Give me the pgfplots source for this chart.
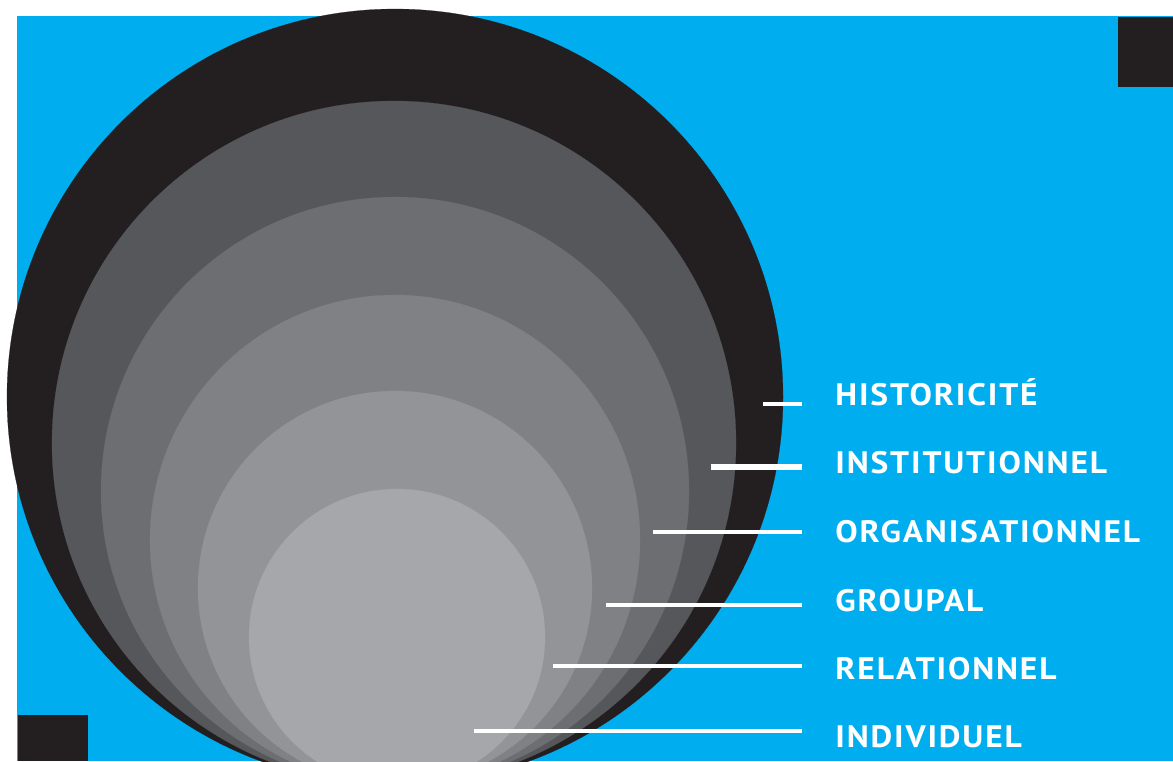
\documentclass[border=0pt]{standalone}
\usepackage{pgfplots}
\pgfplotsset{compat=1.18}
\usepackage{fontspec}
\setmainfont{PT Sans}[LetterSpace=6, FakeStretch=1.08]

\definecolor{bgblue}{HTML}{00AEEF}
\definecolor{ring1}{HTML}{231F20}
\definecolor{ring2}{HTML}{56575B}
\definecolor{ring3}{HTML}{6D6E72}
\definecolor{ring4}{HTML}{808185}
\definecolor{ring5}{HTML}{939498}
\definecolor{ring6}{HTML}{A6A7AB}

% one picture pixel = 0.5pt
\pgfplotsset{
  ring/.style 2 args={only marks, mark=*, mark size=#1, color=#2,
    mark options={solid, draw=#2, fill=#2, line width=0.1pt}},
}
\tikzset{
  lbl/.style={anchor=base west, inner sep=0pt, text=white,
    font=\bfseries\fontsize{15.5}{18}\selectfont},
}

\begin{document}
\begin{tikzpicture}
\useasboundingbox (0,0) rectangle (586.5pt,380.5pt);
\begin{axis}[
    at={(0,0)}, anchor=south west,
    x=0.5pt, y=0.5pt, y dir=reverse,
    xmin=0, xmax=1173, ymin=0, ymax=761,
    hide axis, clip marker paths=true,
  ]
  % background and corner squares
  \addplot[fill=bgblue, draw=none] coordinates {(17,16) (1173,16) (1173,761) (17,761)} -- cycle;
  \addplot[fill=ring1, draw=none] coordinates {(1118,17) (1173,17) (1173,87) (1118,87)} -- cycle;
  \addplot[fill=ring1, draw=none] coordinates {(18,715) (88,715) (88,761) (18,761)} -- cycle;

  % nested circles, all touching at the bottom (y = 785)
  \addplot[ring={194pt}{ring1}] coordinates {(395,397)};
  \addplot[ring={171pt}{ring2}] coordinates {(394,443)};
  \addplot[ring={147pt}{ring3}] coordinates {(395,491)};
  \addplot[ring={122.5pt}{ring4}] coordinates {(395,540)};
  \addplot[ring={98.5pt}{ring5}] coordinates {(395,588)};
  \addplot[ring={74pt}{ring6}] coordinates {(397,637)};

  % leader lines
  \addplot[white, line width=2pt] coordinates {(763,404) (802,404)};
  \addplot[white, line width=3.2pt] coordinates {(711,467) (802,467)};
  \addplot[white, line width=2pt] coordinates {(653,532) (802,532)};
  \addplot[white, line width=2pt] coordinates {(606,605) (802,605)};
  \addplot[white, line width=2pt] coordinates {(553,666) (802,666)};
  \addplot[white, line width=2pt] coordinates {(474,731) (802,731)};

  \node[lbl] at (axis cs:835,405) {HISTORICITÉ};
  \node[lbl] at (axis cs:835,473) {INSTITUTIONNEL};
  \node[lbl] at (axis cs:835,542) {ORGANISATIONNEL};
  \node[lbl] at (axis cs:835,611) {GROUPAL};
  \node[lbl] at (axis cs:835,679) {RELATIONNEL};
  \node[lbl] at (axis cs:835,747) {INDIVIDUEL};
\end{axis}
\end{tikzpicture}
\end{document}
